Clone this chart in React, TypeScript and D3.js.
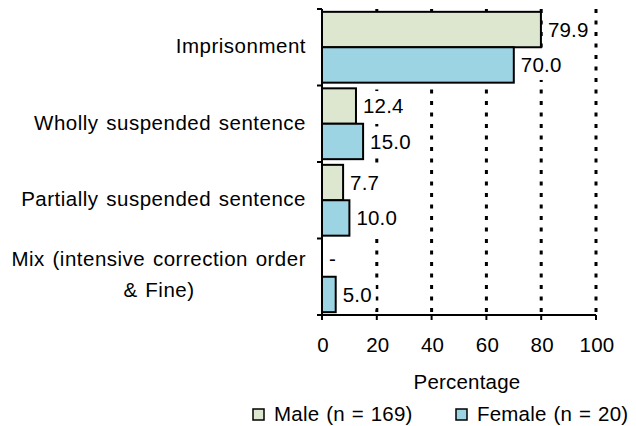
import React from "react";
import * as d3 from "d3";

const categories = [
  ["Imprisonment"],
  ["Wholly suspended sentence"],
  ["Partially suspended sentence"],
  ["Mix (intensive correction order", "& Fine)"],
];
const categoryKeys = ["Imprisonment", "Wholly suspended sentence", "Partially suspended sentence", "Mix"];
const seriesNames = ["Male (n = 169)", "Female (n = 20)"];
const maleValues: (number | null)[] = [79.9, 12.4, 7.7, null];
const femaleValues: (number | null)[] = [70.0, 15.0, 10.0, 5.0];
const xTicks = [0, 20, 40, 60, 80, 100];
const colors = ["#dde6ce", "#9dd4e4"];

const W = 636, H = 426;
const FONT = "'Liberation Sans', Arial, Helvetica, sans-serif";

export default function App() {
  const x = d3.scaleLinear().domain([0, 100]).range([322, 596]);
  const y = d3.scaleBand<string>().domain(categoryKeys).range([9, 315]).paddingInner(0).paddingOuter(0);
  const inner = d3.scaleBand<string>().domain(["m", "f"]).range([0, y.bandwidth()]).paddingInner(0).paddingOuter(0.08);
  const series = [maleValues, femaleValues];
  const keys = ["m", "f"];
  const textStyle: React.CSSProperties = { fontFamily: FONT, fontSize: 20.5, letterSpacing: 0.2, wordSpacing: 1 };
  const catStyle: React.CSSProperties = { fontFamily: FONT, fontSize: 20.5, letterSpacing: 0.5, wordSpacing: 1.5 };
  const yTop = 9, yBot = 315;
  const boundaries = categoryKeys.map((c) => y(c)!).concat([yBot]);

  return (
    <svg width={W} height={H} style={{ position: "absolute", left: 0, top: 0, background: "#fff" }}>
      <rect x={0} y={0} width={W} height={H} fill="#fff" />
      {/* gridlines */}
      {xTicks.slice(1).map((t) => (
        <line key={"g" + t} x1={x(t)} x2={x(t)} y1={yTop} y2={yBot} stroke="#000" strokeWidth={3} strokeDasharray="4,7.5" />
      ))}
      {/* bars */}
      {categoryKeys.map((c, i) =>
        series.map((s, si) => {
          const v = s[i];
          if (v == null) return null;
          return (
            <rect key={c + si} x={x(0)} y={y(c)! + inner(keys[si])!} width={x(v) - x(0)} height={inner.bandwidth()}
              fill={colors[si]} stroke="#000" strokeWidth={2} />
          );
        })
      )}
      {/* value labels */}
      {categoryKeys.map((c, i) =>
        series.map((s, si) => {
          const v = s[i];
          const label = v == null ? "-" : v.toFixed(1);
          const x0 = x(v == null ? 0 : v) + 6;
          const cy = y(c)! + inner(keys[si])! + inner.bandwidth() / 2;
          const w = v == null ? 8 : label.length * 11;
          return (
            <g key={"l" + c + si}>
              {v != null && <rect x={x0 + 1} y={cy - 15} width={w} height={30} fill="#fff" />}
              <text x={x0 + 1} y={cy} dy="0.35em" style={textStyle} fill="#000">{label}</text>
            </g>
          );
        })
      )}
      {/* y axis */}
      <line x1={x(0)} x2={x(0)} y1={yTop} y2={yBot} stroke="#000" strokeWidth={2} />
      {boundaries.map((b, i) => (
        <line key={"yt" + i} x1={x(0) - 5} x2={x(0)} y1={b} y2={b} stroke="#000" strokeWidth={2} />
      ))}
      {/* x axis */}
      <line x1={x(0) - 5} x2={x(100)} y1={yBot} y2={yBot} stroke="#000" strokeWidth={2} />
      {xTicks.map((t) => (
        <g key={"xt" + t}>
          <line x1={x(t)} x2={x(t)} y1={yBot} y2={yBot + 5} stroke="#000" strokeWidth={2} />
          <text x={x(t) + 1} y={345} dy="0.35em" textAnchor="middle" style={textStyle} fill="#000">{t}</text>
        </g>
      ))}
      {/* category labels */}
      {categories.map((lines, i) => {
        const cy = y(categoryKeys[i])! + y.bandwidth() / 2;
        const n = lines.length;
        return lines.map((ln, li) => (
          <text key={"c" + i + li} x={n > 1 && li === 1 ? 159 : 306} y={n > 1 ? cy - 18 + li * 31 : cy - 1} dy="0.35em"
            textAnchor={n > 1 && li === 1 ? "middle" : "end"}
            style={catStyle} fill="#000">{ln}</text>
        ));
      })}
      {/* axis title */}
      <text x={467} y={382} dy="0.35em" textAnchor="middle" style={textStyle} fill="#000">Percentage</text>
      {/* legend */}
      {seriesNames.map((nm, i) => {
        const lx = i === 0 ? 253 : 456;
        return (
          <g key={"lg" + i}>
            <rect x={lx} y={409} width={11} height={11} fill={colors[i]} stroke="#000" strokeWidth={1.5} />
            <text x={lx + 21} y={414} dy="0.35em" style={textStyle} fill="#000">{nm}</text>
          </g>
        );
      })}
    </svg>
  );
}
